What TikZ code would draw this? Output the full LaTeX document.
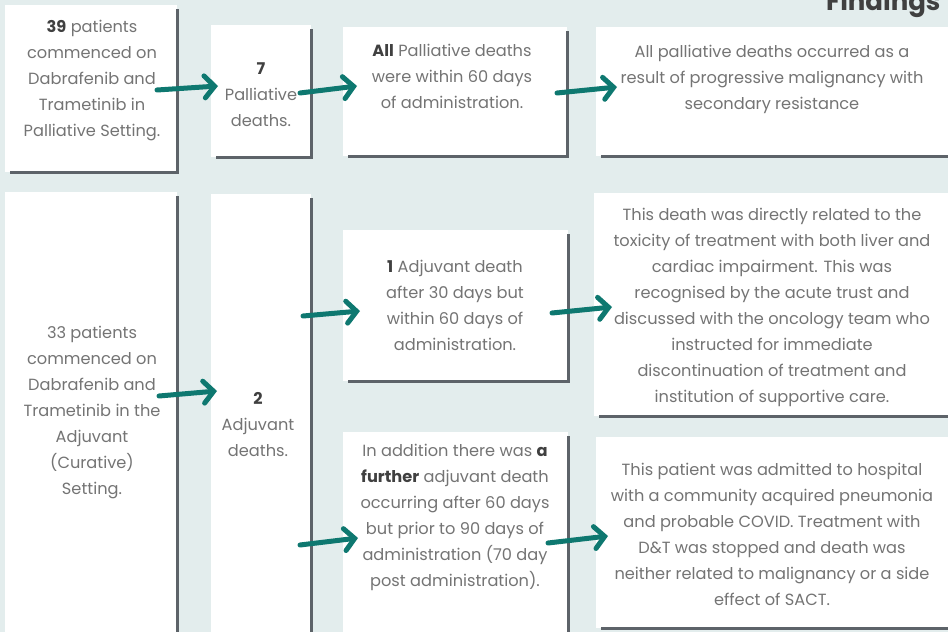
\documentclass[tikz,border=0pt]{standalone}
\usepackage{fontspec}
\setmainfont{Poppins}
\usetikzlibrary{arrows.meta}
\definecolor{pagebg}{HTML}{E3EDED}
\definecolor{rimgray}{HTML}{5D6369}
\definecolor{inkgray}{HTML}{747474}
\definecolor{flowteal}{HTML}{0E7870}
\tikzset{
  card/.style={fill=white,anchor=north west,inner sep=0pt},
  txt/.style={text=inkgray,align=center,font=\fontsize{16.2}{26}\selectfont},
  rim/.style={draw=rimgray,line width=3pt},
  flow/.style={draw=flowteal,line width=5pt,line cap=round,
    -{Straight Barb[length=10pt,width=22pt,line cap=round]}}
}
\newcommand\cardrim[1]{\draw[rim] ([yshift=-4pt]#1.north east) -- (#1.south east) -- ([xshift=5pt]#1.south west);}
\newcommand\hl[1]{\textbf{\color{black!75}#1}}

\begin{document}
\begin{tikzpicture}[x=1pt,y=-1pt]
  \useasboundingbox (0,0) rectangle (948,632);
  \clip (0,0) rectangle (948,632);
  \fill[pagebg] (0,0) rectangle (948,632);
  \node[anchor=base east,text=black!75,font=\fontsize{26}{30}\selectfont\bfseries] (title) at (944,10) {Findings};

  % palliative row
  \node[card,minimum width=172,minimum height=167] (pal) at (5,5) {};
  \node[card,minimum width=100,minimum height=132] (pald) at (211,25) {};
  \node[card,minimum width=224,minimum height=129] (palwin) at (343,27) {};
  \node[card,minimum width=364,minimum height=129] (palcause) at (596,27) {};
  \foreach \b in {pal,pald,palwin,palcause} {\cardrim{\b}}

  % adjuvant row
  \node[card,minimum width=172,minimum height=448] (adj) at (5,192) {};
  \node[card,minimum width=100,minimum height=446] (adjd) at (211,194) {};
  \node[card,minimum width=225,minimum height=151] (adjone) at (343,230) {};
  \node[card,minimum width=366,minimum height=223] (adjonecause) at (594,193) {};
  \node[card,minimum width=225,minimum height=208] (adjtwo) at (343,432) {};
  \node[card,minimum width=364,minimum height=191] (adjtwocause) at (596,437) {};
  \foreach \b in {adj,adjd,adjone,adjonecause,adjtwo,adjtwocause} {\cardrim{\b}}

  \node[txt] (paltxt) at (92,81) {\hl{39} patients\\commenced on\\Dabrafenib and\\Trametinib in\\Palliative Setting.};
  \node[txt] (paldtxt) at (261,95) {\hl{7}\\Palliative\\deaths.};
  \node[txt] (palwintxt) at (452,76) {\hl{All} Palliative deaths\\were within 60 days\\of administration.};
  \node[txt] (palcausetxt) at (772,79) {All palliative deaths occurred as a\\result of progressive malignancy with\\secondary resistance};
  \node[txt] (adjtxt) at (92,413) {33 patients\\commenced on\\Dabrafenib and\\Trametinib in the\\Adjuvant\\(Curative)\\Setting.};
  \node[txt] (adjdtxt) at (258,425) {\hl{2}\\Adjuvant\\deaths.};
  \node[txt] (adjonetxt) at (455,305) {\hl{1} Adjuvant death\\after 30 days but\\within 60 days of\\administration.};
  \node[txt] (adjonecausetxt) at (772,307) {This death was directly related to the\\toxicity of treatment with both liver and\\cardiac impairment. This was\\recognised by the acute trust and\\discussed with the oncology team who\\instructed for immediate\\discontinuation of treatment and\\institution of supportive care.};
  \node[txt] (adjtwotxt) at (455,517) {In addition there was \hl{a}\\\hl{further} adjuvant death\\occurring after 60 days\\but prior to 90 days of\\administration (70 day\\post administration).};
  \node[txt] (adjtwocausetxt) at (772,534) {This patient was admitted to hospital\\with a community acquired pneumonia\\and probable COVID. Treatment with\\D\&T was stopped and death was\\neither related to malignancy or a side\\effect of SACT.};

  % arrow ends
  \coordinate (f1a) at (157,90);  \coordinate (f1b) at (218,86);
  \coordinate (f2a) at (300,93);  \coordinate (f2b) at (357,86);
  \coordinate (f3a) at (557,93);  \coordinate (f3b) at (617,87);
  \coordinate (f4a) at (159,396); \coordinate (f4b) at (217,391);
  \coordinate (f5a) at (303,316); \coordinate (f5b) at (360,311);
  \coordinate (f6a) at (552,313); \coordinate (f6b) at (612,307);
  \coordinate (f7a) at (300,545); \coordinate (f7b) at (358,538);
  \coordinate (f8a) at (548,543); \coordinate (f8b) at (608,536);
  \foreach \i in {1,...,8} {\draw[flow] (f\i a) -- (f\i b);}
\end{tikzpicture}
\end{document}
